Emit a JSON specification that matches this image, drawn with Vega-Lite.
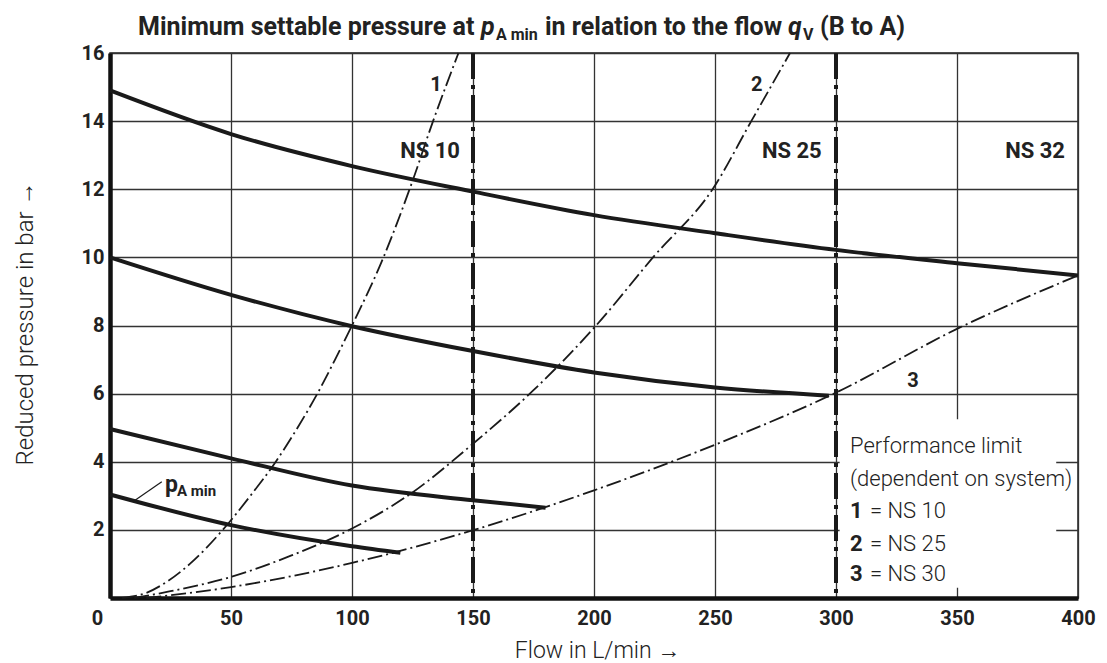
{
  "$schema": "https://vega.github.io/schema/vega-lite/v6.json",
  "width": 968,
  "height": 545,
  "autosize": {"type": "none"},
  "padding": {"left": 110, "top": 53, "right": 29, "bottom": 65},
  "background": "white",
  "config": {
    "view": {"stroke": "#222", "strokeWidth": 1.5},
    "font": "Roboto"
  },
  "datasets": {
    "curves": [
      {"series": "A", "q": 0, "p": 14.9}, {"series": "A", "q": 50, "p": 13.62}, {"series": "A", "q": 100, "p": 12.68},
      {"series": "A", "q": 150, "p": 11.93}, {"series": "A", "q": 200, "p": 11.24}, {"series": "A", "q": 250, "p": 10.71},
      {"series": "A", "q": 300, "p": 10.22}, {"series": "A", "q": 350, "p": 9.83}, {"series": "A", "q": 400, "p": 9.47},
      {"series": "B", "q": 0, "p": 10.0}, {"series": "B", "q": 50, "p": 8.9}, {"series": "B", "q": 100, "p": 7.98},
      {"series": "B", "q": 150, "p": 7.25}, {"series": "B", "q": 200, "p": 6.62}, {"series": "B", "q": 250, "p": 6.18},
      {"series": "B", "q": 297, "p": 5.94},
      {"series": "C", "q": 0, "p": 4.96}, {"series": "C", "q": 50, "p": 4.1}, {"series": "C", "q": 100, "p": 3.3},
      {"series": "C", "q": 150, "p": 2.87}, {"series": "C", "q": 180, "p": 2.65},
      {"series": "D", "q": 0, "p": 3.04}, {"series": "D", "q": 50, "p": 2.14}, {"series": "D", "q": 100, "p": 1.52},
      {"series": "D", "q": 120, "p": 1.33}
    ],
    "limits": [
      {"series": "1", "q": 5, "p": 0}, {"series": "1", "q": 15, "p": 0.15}, {"series": "1", "q": 24, "p": 0.5},
      {"series": "1", "q": 33, "p": 1.0}, {"series": "1", "q": 46.6, "p": 2.0}, {"series": "1", "q": 58, "p": 3.0},
      {"series": "1", "q": 68.5, "p": 4.0}, {"series": "1", "q": 77.5, "p": 5.0}, {"series": "1", "q": 85.7, "p": 6.0},
      {"series": "1", "q": 93, "p": 7.0}, {"series": "1", "q": 100, "p": 8.0}, {"series": "1", "q": 113, "p": 10.0},
      {"series": "1", "q": 124.7, "p": 12.18}, {"series": "1", "q": 133.5, "p": 14.0}, {"series": "1", "q": 144, "p": 16.0},
      {"series": "2", "q": 10, "p": 0}, {"series": "2", "q": 25, "p": 0.2}, {"series": "2", "q": 50, "p": 0.62},
      {"series": "2", "q": 75, "p": 1.25}, {"series": "2", "q": 100, "p": 2.04}, {"series": "2", "q": 125, "p": 3.1},
      {"series": "2", "q": 150, "p": 4.53}, {"series": "2", "q": 175, "p": 6.1}, {"series": "2", "q": 200, "p": 7.93},
      {"series": "2", "q": 225, "p": 10.05}, {"series": "2", "q": 249, "p": 12.0}, {"series": "2", "q": 265, "p": 14.0},
      {"series": "2", "q": 281, "p": 16.0},
      {"series": "3", "q": 15, "p": 0}, {"series": "3", "q": 50, "p": 0.32}, {"series": "3", "q": 100, "p": 1.03},
      {"series": "3", "q": 150, "p": 1.99}, {"series": "3", "q": 200, "p": 3.16}, {"series": "3", "q": 250, "p": 4.5},
      {"series": "3", "q": 300, "p": 6.03}, {"series": "3", "q": 350, "p": 7.9}, {"series": "3", "q": 400, "p": 9.47}
    ],
    "nslines": [{"q": 150}, {"q": 300}],
    "leader": [{"q": 21.4, "p": 3.41}, {"q": 9.6, "p": 2.83}],
    "boldRight": [
      {"t": "NS 10", "q": 144.6, "p": 13.12},
      {"t": "NS 25", "q": 294.1, "p": 13.12},
      {"t": "NS 32", "q": 394.6, "p": 13.12}
    ],
    "boldCenter": [
      {"t": "1", "q": 134.7, "p": 15.06},
      {"t": "2", "q": 267.2, "p": 15.06},
      {"t": "3", "q": 331.8, "p": 6.37}
    ],
    "legendBold": [
      {"t": "1", "q": 305.8, "p": 2.55},
      {"t": "2", "q": 305.8, "p": 1.6},
      {"t": "3", "q": 305.8, "p": 0.7}
    ],
    "legendLight": [
      {"t": "Performance limit", "q": 305.8, "p": 4.45},
      {"t": "(dependent on system)", "q": 305.8, "p": 3.49},
      {"t": "= NS 10", "q": 314.0, "p": 2.55},
      {"t": "= NS 25", "q": 314.0, "p": 1.6},
      {"t": "= NS 30", "q": 314.0, "p": 0.7}
    ],
    "titleMain": [
      {"t": "Minimum settable pressure at", "q": 11.57, "p": 16.53},
      {"t": "in relation to the flow", "q": 179.75, "p": 16.53},
      {"t": "(B to A)", "q": 293.4, "p": 16.53}
    ],
    "titleItalic": [
      {"t": "p", "q": 153.3, "p": 16.53},
      {"t": "q", "q": 280.2, "p": 16.53}
    ],
    "titleSub": [
      {"t": "A min", "q": 159.5, "p": 16.38},
      {"t": "V", "q": 286.4, "p": 16.38}
    ],
    "pLabel": [{"t": "p", "q": 22.7, "p": 3.12}],
    "pSub": [{"t": "A min", "q": 27.7, "p": 3.0}]
  },
  "layer": [
    {
      "data": {"name": "curves"},
      "mark": {"type": "line", "color": "#1a1a1a", "strokeWidth": 4, "interpolate": "monotone", "strokeCap": "butt"},
      "encoding": {
        "x": {
          "field": "q", "type": "quantitative",
          "scale": {"domain": [0, 400], "nice": false, "zero": false},
          "axis": {
            "values": [0, 50, 100, 150, 200, 250, 300, 350, 400],
            "grid": true, "gridColor": "#333", "gridWidth": 1.3,
            "domainColor": "#111", "domainWidth": 4.5, "ticks": false,
            "labelFontWeight": "bold", "labelFontSize": 20, "labelColor": "#222", "labelPadding": 10,
            "labelOffset": {"condition": {"test": "datum.value == 0", "value": -13}, "value": 0},
            "labelFlush": false, "labelBound": false, "labelOverlap": false,
            "title": "Flow in L/min →", "titleFontWeight": 300, "titleFontSize": 23, "titleColor": "#222",
            "titleX": 487, "titleY": 52, "titleBaseline": "middle"
          }
        },
        "y": {
          "field": "p", "type": "quantitative",
          "scale": {"domain": [0, 16], "nice": false, "zero": false},
          "axis": {
            "values": [0, 2, 4, 6, 8, 10, 12, 14, 16],
            "labelExpr": "datum.value == 0 ? '' : datum.label",
            "grid": true, "gridColor": "#333", "gridWidth": 1.3,
            "domainColor": "#111", "domainWidth": 4.5, "ticks": false,
            "labelFontWeight": "bold", "labelFontSize": 20, "labelColor": "#222", "labelPadding": 6,
            "labelFlush": false, "labelBound": false, "labelOverlap": false,
            "title": "Reduced pressure in bar →", "titleFontWeight": 300, "titleFontSize": 24, "titleColor": "#222",
            "titleX": -85, "titleY": 270, "titleBaseline": "middle", "titleAngle": 270
          }
        },
        "detail": {"field": "series"}
      }
    },
    {
      "data": {"values": [{}]},
      "mark": {"type": "rect", "color": "white"},
      "encoding": {
        "x": {"datum": 301.5}, "x2": {"datum": 391},
        "y": {"datum": 0.3}, "y2": {"datum": 5.25}
      }
    },
    {
      "data": {"name": "limits"},
      "mark": {"type": "line", "color": "#1a1a1a", "strokeWidth": 1.8, "interpolate": "monotone", "strokeDash": [15, 4, 2, 4]},
      "encoding": {
        "x": {"field": "q", "type": "quantitative"},
        "y": {"field": "p", "type": "quantitative"},
        "detail": {"field": "series"}
      }
    },
    {
      "data": {"name": "nslines"},
      "mark": {"type": "rule", "color": "#1a1a1a", "strokeWidth": 4, "strokeDash": [26, 6, 4, 6]},
      "encoding": {"x": {"field": "q", "type": "quantitative"}}
    },
    {
      "data": {"name": "leader"},
      "mark": {"type": "line", "color": "#1a1a1a", "strokeWidth": 1.2},
      "encoding": {
        "x": {"field": "q", "type": "quantitative"},
        "y": {"field": "p", "type": "quantitative"}
      }
    },
    {
      "data": {"name": "boldRight"},
      "mark": {"type": "text", "align": "right", "baseline": "middle", "fontWeight": "bold", "fontSize": 22, "color": "#222"},
      "encoding": {"x": {"field": "q", "type": "quantitative"}, "y": {"field": "p", "type": "quantitative"}, "text": {"field": "t"}}
    },
    {
      "data": {"name": "boldCenter"},
      "mark": {"type": "text", "align": "center", "baseline": "middle", "fontWeight": "bold", "fontSize": 20, "color": "#222"},
      "encoding": {"x": {"field": "q", "type": "quantitative"}, "y": {"field": "p", "type": "quantitative"}, "text": {"field": "t"}}
    },
    {
      "data": {"name": "legendBold"},
      "mark": {"type": "text", "align": "left", "baseline": "middle", "fontWeight": "bold", "fontSize": 22, "color": "#222"},
      "encoding": {"x": {"field": "q", "type": "quantitative"}, "y": {"field": "p", "type": "quantitative"}, "text": {"field": "t"}}
    },
    {
      "data": {"name": "legendLight"},
      "mark": {"type": "text", "align": "left", "baseline": "middle", "fontWeight": 300, "fontSize": 22, "color": "#222"},
      "encoding": {"x": {"field": "q", "type": "quantitative"}, "y": {"field": "p", "type": "quantitative"}, "text": {"field": "t"}}
    },
    {
      "data": {"name": "titleMain"},
      "mark": {"type": "text", "align": "left", "baseline": "alphabetic", "fontWeight": "bold", "fontSize": 25, "color": "#222"},
      "encoding": {"x": {"field": "q", "type": "quantitative"}, "y": {"field": "p", "type": "quantitative"}, "text": {"field": "t"}}
    },
    {
      "data": {"name": "titleItalic"},
      "mark": {"type": "text", "align": "left", "baseline": "alphabetic", "fontWeight": "bold", "fontStyle": "italic", "fontSize": 25, "color": "#222"},
      "encoding": {"x": {"field": "q", "type": "quantitative"}, "y": {"field": "p", "type": "quantitative"}, "text": {"field": "t"}}
    },
    {
      "data": {"name": "titleSub"},
      "mark": {"type": "text", "align": "left", "baseline": "alphabetic", "fontWeight": "bold", "fontSize": 16, "color": "#222"},
      "encoding": {"x": {"field": "q", "type": "quantitative"}, "y": {"field": "p", "type": "quantitative"}, "text": {"field": "t"}}
    },
    {
      "data": {"name": "pLabel"},
      "mark": {"type": "text", "align": "left", "baseline": "alphabetic", "fontWeight": "bold", "fontSize": 23, "color": "#222"},
      "encoding": {"x": {"field": "q", "type": "quantitative"}, "y": {"field": "p", "type": "quantitative"}, "text": {"field": "t"}}
    },
    {
      "data": {"name": "pSub"},
      "mark": {"type": "text", "align": "left", "baseline": "alphabetic", "fontWeight": "bold", "fontSize": 15, "color": "#222"},
      "encoding": {"x": {"field": "q", "type": "quantitative"}, "y": {"field": "p", "type": "quantitative"}, "text": {"field": "t"}}
    }
  ]
}
